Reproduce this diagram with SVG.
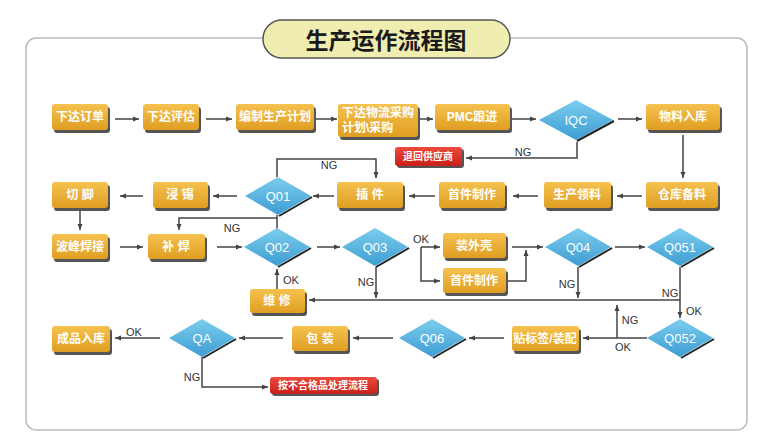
<svg xmlns="http://www.w3.org/2000/svg" width="775" height="442" viewBox="0 0 775 442">
<defs>
<linearGradient id="og" x1="0" y1="0" x2="0" y2="1"><stop offset="0" stop-color="#f4c24e"/><stop offset="1" stop-color="#e09e22"/></linearGradient>
<linearGradient id="bg" x1="0" y1="0" x2="0" y2="1"><stop offset="0" stop-color="#7ccdee"/><stop offset="1" stop-color="#3d9dd2"/></linearGradient>
<linearGradient id="rg" x1="0" y1="0" x2="0" y2="1"><stop offset="0" stop-color="#ee4a3c"/><stop offset="1" stop-color="#c8201a"/></linearGradient>
<marker id="ah" markerWidth="8" markerHeight="8" refX="6" refY="4" orient="auto" markerUnits="userSpaceOnUse"><path d="M0,1.5 L6,4 L0,6.5 Z" fill="#444"/></marker>
<style>
.sh{fill:#555}
.bx{fill:url(#og)}
.rb{fill:url(#rg)}
.dm{fill:url(#bg)}
.ds{fill:none;stroke:#222;stroke-width:2}
.t{font-family:"Liberation Sans","Noto Sans CJK SC",sans-serif;font-weight:bold;font-size:12px;fill:#fff;text-anchor:middle}
.rt{font-family:"Liberation Sans","Noto Sans CJK SC",sans-serif;font-weight:bold;font-size:10px;fill:#fff;text-anchor:middle}
.dt{font-family:"Liberation Sans",sans-serif;font-size:13px;fill:#fff;text-anchor:middle}
.lb{font-family:"Liberation Sans",sans-serif;font-size:11px;fill:#333;text-anchor:middle}
.c{fill:none;stroke:#444;stroke-width:1.5}
.a{marker-end:url(#ah)}
</style>
</defs>
<rect width="775" height="442" fill="#fff"/>
<rect x="26" y="38" width="721" height="392" rx="10" fill="#fff" stroke="#bbb" stroke-width="1.5"/>
<g id="title">
<rect x="263" y="20" width="247" height="38" rx="19" fill="#efedb0" stroke="#555" stroke-width="1.5"/>
<text x="386" y="49" style="font-family:'Noto Sans CJK SC',sans-serif;font-weight:bold;font-size:23px;fill:#1a1a1a;text-anchor:middle">生产运作流程图</text>
</g>

<g id="connectors">
<path class="c a" d="M115,119 H139"/>
<path class="c a" d="M206,119 H232"/>
<path class="c a" d="M314,119 H337"/>
<path class="c a" d="M420,119 H433"/>
<path class="c a" d="M512,119 H536"/>
<path class="c a" d="M618,119 H642"/>
<path class="c a" d="M577,142 V158 H466"/>
<path class="c a" d="M683,135 V178"/>
<path class="c a" d="M642,196 H617"/>
<path class="c a" d="M538,196 H513"/>
<path class="c a" d="M435,196 H409"/>
<path class="c a" d="M334,196 H313"/>
<path class="c a" d="M237,196 H213"/>
<path class="c a" d="M143,196 H120"/>
<path class="c a" d="M277,177 V159 H376 V178"/>
<path class="c" d="M277,215 V229"/>
<path class="c a" d="M277,218 H179 V230"/>
<path class="c a" d="M80,211 V230"/>
<path class="c a" d="M120,247 H143"/>
<path class="c a" d="M217,247 H242"/>
<path class="c a" d="M317,247 H340"/>
<path class="c a" d="M421,247 H440"/>
<path class="c a" d="M421,247 V281 H440"/>
<path class="c a" d="M508,281 H526 V250"/>
<path class="c a" d="M512,247 H543"/>
<path class="c a" d="M615,247 H645"/>
<path class="c a" d="M376,267 V298"/>
<path class="c a" d="M578,267 V298"/>
<path class="c a" d="M680,300 H309"/>
<path class="c a" d="M680,267 V318"/>
<path class="c a" d="M277,289 V269"/>
<path class="c a" d="M647,338 H583"/>
<path class="c a" d="M617,338 V305"/>
<path class="c a" d="M504,338 H469"/>
<path class="c a" d="M393,338 H353"/>
<path class="c a" d="M283,338 H239"/>
<path class="c a" d="M160,338 H115"/>
<path class="c a" d="M202,357 V387 H268"/>
<text class="lb" x="523" y="156">NG</text>
<text class="lb" x="329" y="169">NG</text>
<text class="lb" x="232" y="232">NG</text>
<text class="lb" x="421" y="243">OK</text>
<text class="lb" x="366" y="286">NG</text>
<text class="lb" x="291" y="284">OK</text>
<text class="lb" x="567" y="288">NG</text>
<text class="lb" x="670" y="297">NG</text>
<text class="lb" x="694" y="315">OK</text>
<text class="lb" x="630" y="324">NG</text>
<text class="lb" x="623" y="351">OK</text>
<text class="lb" x="134" y="336">OK</text>
<text class="lb" x="192" y="381">NG</text>
</g>

<g id="n1"><rect class="sh" x="54" y="107" width="56" height="26" rx="3"/><rect class="bx" x="52" y="104" width="56" height="26" rx="3"/><text class="t" x="80" y="121">下达订单</text></g>
<g id="n2"><rect class="sh" x="145" y="107" width="56" height="26" rx="3"/><rect class="bx" x="143" y="104" width="56" height="26" rx="3"/><text class="t" x="171" y="121">下达评估</text></g>
<g id="n3"><rect class="sh" x="238" y="107" width="78" height="26" rx="3"/><rect class="bx" x="236" y="104" width="78" height="26" rx="3"/><text class="t" x="275" y="121">编制生产计划</text></g>
<g id="n4"><rect class="sh" x="340" y="107" width="80" height="33" rx="3"/><rect class="bx" x="338" y="104" width="80" height="33" rx="3"/><text class="t" x="342" y="117" style="text-anchor:start">下达物流采购</text><text class="t" x="342" y="132" style="text-anchor:start">计划\采购</text></g>
<g id="n5"><rect class="sh" x="437" y="107" width="75" height="26" rx="3"/><rect class="bx" x="435" y="104" width="75" height="26" rx="3"/><text class="t" x="472" y="121">PMC跟进</text></g>
<g id="iqc"><polygon class="dm" points="576,100 613,120 576,140 539,120"/><polyline class="ds" points="614,121 577,141"/><text class="dt" x="576" y="125">IQC</text></g>
<g id="n6"><rect class="sh" x="648" y="107" width="74" height="26" rx="3"/><rect class="bx" x="646" y="104" width="74" height="26" rx="3"/><text class="t" x="683" y="121">物料入库</text></g>
<g id="r1"><rect class="sh" x="397" y="149" width="67" height="19" rx="3"/><rect class="rb" x="395" y="147" width="67" height="19" rx="3"/><text class="rt" x="428" y="160">退回供应商</text></g>

<g id="n7"><rect class="sh" x="648" y="185" width="72" height="26" rx="3"/><rect class="bx" x="646" y="182" width="72" height="26" rx="3"/><text class="t" x="682" y="199">仓库备料</text></g>
<g id="n8"><rect class="sh" x="546" y="185" width="67" height="26" rx="3"/><rect class="bx" x="544" y="182" width="67" height="26" rx="3"/><text class="t" x="577" y="199">生产领料</text></g>
<g id="n9"><rect class="sh" x="441" y="185" width="66" height="26" rx="3"/><rect class="bx" x="439" y="182" width="66" height="26" rx="3"/><text class="t" x="472" y="199">首件制作</text></g>
<g id="n10"><rect class="sh" x="339" y="185" width="66" height="26" rx="3"/><rect class="bx" x="337" y="182" width="66" height="26" rx="3"/><text class="t" x="370" y="199">插 件</text></g>
<g id="q01"><polygon class="dm" points="278,177 311,196 278,215 245,196"/><polyline class="ds" points="312,197 279,216"/><text class="dt" x="278" y="201">Q01</text></g>
<g id="n11"><rect class="sh" x="155" y="185" width="55" height="26" rx="3"/><rect class="bx" x="153" y="182" width="55" height="26" rx="3"/><text class="t" x="180" y="199">浸 锡</text></g>
<g id="n12"><rect class="sh" x="54" y="185" width="56" height="26" rx="3"/><rect class="bx" x="52" y="182" width="56" height="26" rx="3"/><text class="t" x="80" y="199">切 脚</text></g>

<g id="n13"><rect class="sh" x="54" y="237" width="56" height="25" rx="3"/><rect class="bx" x="52" y="234" width="56" height="25" rx="3"/><text class="t" x="80" y="251">波峰焊接</text></g>
<g id="n14"><rect class="sh" x="150" y="237" width="57" height="25" rx="3"/><rect class="bx" x="148" y="234" width="57" height="25" rx="3"/><text class="t" x="176" y="251">补 焊</text></g>
<g id="q02"><polygon class="dm" points="277,228 310,247 277,266 244,247"/><polyline class="ds" points="311,248 278,267"/><text class="dt" x="277" y="252">Q02</text></g>
<g id="q03"><polygon class="dm" points="375,228 408,247 375,266 342,247"/><polyline class="ds" points="409,248 376,267"/><text class="dt" x="375" y="252">Q03</text></g>
<g id="n15"><rect class="sh" x="445" y="236" width="63" height="25" rx="3"/><rect class="bx" x="443" y="233" width="63" height="25" rx="3"/><text class="t" x="474" y="250">装外壳</text></g>
<g id="n16"><rect class="sh" x="445" y="271" width="63" height="25" rx="3"/><rect class="bx" x="443" y="268" width="63" height="25" rx="3"/><text class="t" x="474" y="285">首件制作</text></g>
<g id="q04"><polygon class="dm" points="578,228 611,247 578,266 545,247"/><polyline class="ds" points="612,248 579,267"/><text class="dt" x="578" y="252">Q04</text></g>
<g id="q051"><polygon class="dm" points="680,228 713,247 680,266 647,247"/><polyline class="ds" points="714,248 681,267"/><text class="dt" x="680" y="252">Q051</text></g>
<g id="n17"><rect class="sh" x="252" y="292" width="55" height="24" rx="3"/><rect class="bx" x="250" y="289" width="55" height="24" rx="3"/><text class="t" x="277" y="305">维 修</text></g>

<g id="q052"><polygon class="dm" points="680,319 713,338 680,357 647,338"/><polyline class="ds" points="714,339 681,358"/><text class="dt" x="680" y="343">Q052</text></g>
<g id="n18"><rect class="sh" x="514" y="329" width="67" height="25" rx="3"/><rect class="bx" x="512" y="326" width="67" height="25" rx="3"/><text class="t" x="545" y="343">贴标签/装配</text></g>
<g id="q06"><polygon class="dm" points="432,319 465,338 432,357 399,338"/><polyline class="ds" points="466,339 433,358"/><text class="dt" x="432" y="343">Q06</text></g>
<g id="n19"><rect class="sh" x="294" y="329" width="56" height="25" rx="3"/><rect class="bx" x="292" y="326" width="56" height="25" rx="3"/><text class="t" x="320" y="343">包 装</text></g>
<g id="qa"><polygon class="dm" points="202,319 235,338 202,357 169,338"/><polyline class="ds" points="236,339 203,358"/><text class="dt" x="202" y="343">QA</text></g>
<g id="n20"><rect class="sh" x="54" y="329" width="58" height="26" rx="3"/><rect class="bx" x="52" y="326" width="58" height="26" rx="3"/><text class="t" x="81" y="343">成品入库</text></g>
<g id="r2"><rect class="sh" x="272" y="379" width="107" height="17" rx="3"/><rect class="rb" x="270" y="377" width="107" height="17" rx="3"/><text class="rt" x="323" y="389">按不合格品处理流程</text></g>
</svg>
